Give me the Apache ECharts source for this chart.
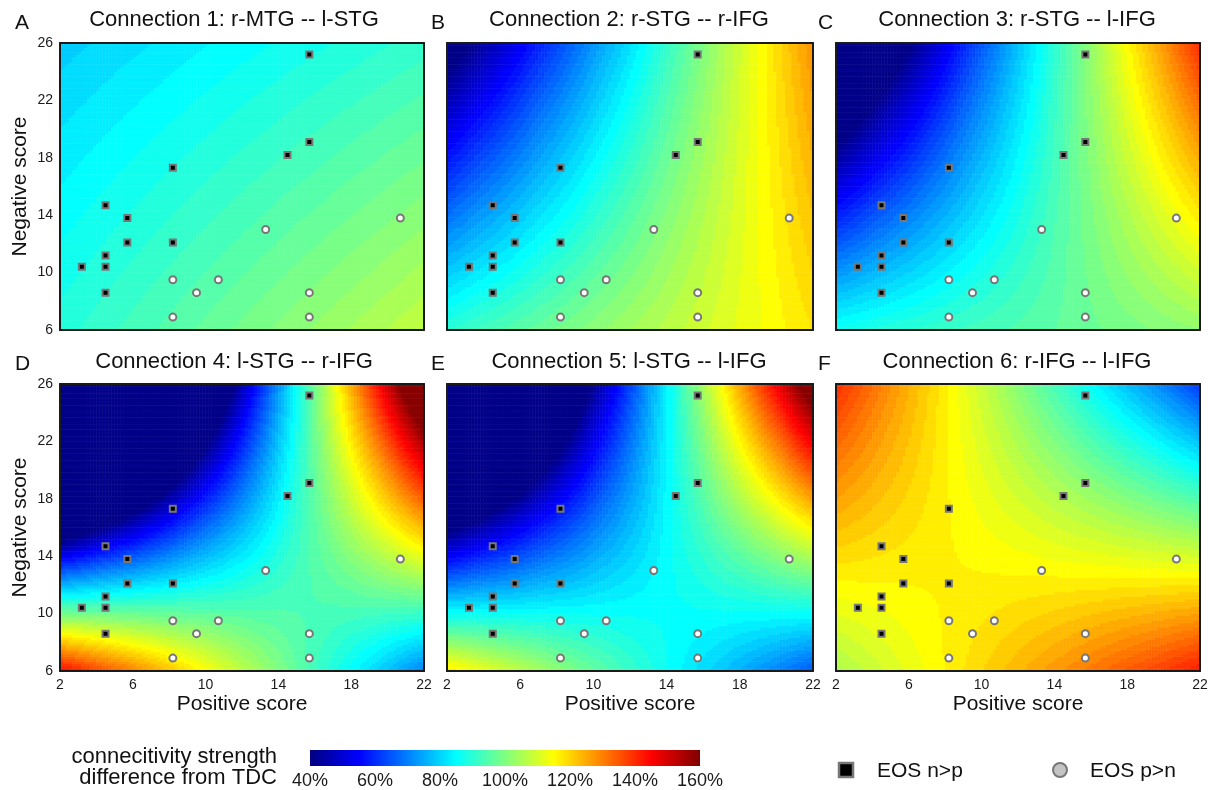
<!DOCTYPE html>
<html lang="en">
<head>
<meta charset="utf-8">
<title>Connectivity strength maps</title>
<script src="https://cdn.jsdelivr.net/npm/echarts@6/dist/echarts.min.js"></script>
<style>
  html, body { margin: 0; padding: 0; background: #fff; }
  #main { width: 1211px; height: 790px; }
</style>
</head>
<body>
<div id="main"></div>
<script>
  var panelLetters = ['A', 'B', 'C', 'D', 'E', 'F'];
  var panelTitles = [
    'Connection 1: r-MTG -- l-STG',
    'Connection 2: r-STG -- r-IFG',
    'Connection 3: r-STG -- l-IFG',
    'Connection 4: l-STG -- r-IFG',
    'Connection 5: l-STG -- l-IFG',
    'Connection 6: r-IFG -- l-IFG'
  ];
  var positiveRange = [2, 22];
  var negativeRange = [6, 26];
  var tickStep = 4;

  // surface value (% of TDC) read at the corners of each panel, A..F
  var cornerBottomLeft = [89, 90, 87, 145, 118, 105];
  var cornerBottomRight = [108, 118, 102, 70, 65, 142];
  var cornerTopLeft = [79, 35, 15, -85, -42, 140];
  var cornerTopRight = [91, 128, 140, 177, 167, 62];

  // EOS n>p patients (squares)
  var nGtPPositive = [3.2, 4.5, 4.5, 4.5, 4.5, 5.7, 5.7, 8.2, 8.2, 14.5, 15.7, 15.7];
  var nGtPNegative = [10.4, 8.6, 10.4, 11.2, 14.7, 12.1, 13.8, 12.1, 17.3, 18.2, 19.1, 25.2];
  // EOS p>n patients (circles)
  var pGtNPositive = [8.2, 8.2, 9.5, 10.7, 13.3, 15.7, 15.7, 20.7];
  var pGtNNegative = [6.9, 9.5, 8.6, 9.5, 13.0, 6.9, 8.6, 13.8];

  var colorbarRange = [40, 160];
  var colorbarTicks = [40, 60, 80, 100, 120, 140, 160];

  var FONT = '"Liberation Sans", Arial, sans-serif';
  var gridLeft = [60, 447, 836];
  var gridWidth = [364, 366, 364];
  var gridTop = [43, 384];
  var gridHeight = 287;
  var titleCenter = [234, 629, 1017];
  var N = 120;

  function clamp(v) { return Math.max(0, Math.min(1, v)); }
  function jet(t) {
    var r = clamp(1.5 - Math.abs(4 * t - 3));
    var g = clamp(1.5 - Math.abs(4 * t - 2));
    var b = clamp(1.5 - Math.abs(4 * t - 1));
    return 'rgb(' + Math.round(r * 255) + ',' + Math.round(g * 255) + ',' + Math.round(b * 255) + ')';
  }

  // contour-like bands, 2% each
  var pieces = [];
  for (var k = 0; k < 60; k++) {
    var lo = colorbarRange[0] + 2 * k;
    var p = { color: jet((lo + 1 - colorbarRange[0]) / 120) };
    if (k > 0) p.gte = lo;
    if (k < 59) p.lt = lo + 2;
    pieces.push(p);
  }

  var cats = [];
  for (var i = 0; i < N; i++) cats.push(String(i));

  function surface(idx) {
    var out = [];
    for (var i = 0; i < N; i++) {
      for (var j = 0; j < N; j++) {
        var u = (i + 0.5) / N, v = (j + 0.5) / N;
        var val = cornerBottomLeft[idx] * (1 - u) * (1 - v) + cornerBottomRight[idx] * u * (1 - v) +
          cornerTopLeft[idx] * (1 - u) * v + cornerTopRight[idx] * u * v;
        out.push([i, j, val]);
      }
    }
    return out;
  }

  var nGtP = nGtPPositive.map(function (x, i) { return [x, nGtPNegative[i]]; });
  var pGtN = pGtNPositive.map(function (x, i) { return [x, pGtNNegative[i]]; });

  var grids = [], xAxes = [], yAxes = [], series = [], titles = [], graphics = [];
  var lineStyle = { color: '#1a1a1a', width: 2 };

  for (var n = 0; n < 6; n++) {
    var col = n % 3, row = Math.floor(n / 3);
    grids.push({ left: gridLeft[col], top: gridTop[row], width: gridWidth[col], height: gridHeight });
    xAxes.push({
      type: 'value', gridIndex: n, min: positiveRange[0], max: positiveRange[1], interval: tickStep,
      position: 'bottom', z: 10,
      axisLine: { show: true, onZero: false, lineStyle: lineStyle },
      axisTick: { show: false }, splitLine: { show: false },
      axisLabel: { show: row === 1, color: '#1a1a1a', fontSize: 14, fontFamily: FONT, margin: 7 },
      name: row === 1 ? 'Positive score' : '', nameLocation: 'middle', nameGap: 23,
      nameTextStyle: { color: '#111', fontSize: 21, fontFamily: FONT }
    });
    xAxes.push({
      type: 'category', gridIndex: n, data: cats, position: 'top', z: 10,
      axisLine: { show: true, lineStyle: lineStyle },
      axisTick: { show: false }, axisLabel: { show: false }, splitLine: { show: false }
    });
    yAxes.push({
      type: 'value', gridIndex: n, min: negativeRange[0], max: negativeRange[1], interval: tickStep,
      position: 'left', z: 10,
      axisLine: { show: true, onZero: false, lineStyle: lineStyle },
      axisTick: { show: false }, splitLine: { show: false },
      axisLabel: { show: col === 0, color: '#1a1a1a', fontSize: 14, fontFamily: FONT, margin: 7 },
      name: col === 0 ? 'Negative score' : '', nameLocation: 'middle', nameGap: 29,
      nameTextStyle: { color: '#111', fontSize: 21, fontFamily: FONT }
    });
    yAxes.push({
      type: 'category', gridIndex: n, data: cats, position: 'right', z: 10,
      axisLine: { show: true, lineStyle: lineStyle },
      axisTick: { show: false }, axisLabel: { show: false }, splitLine: { show: false }
    });
    series.push({
      type: 'heatmap', xAxisIndex: 2 * n + 1, yAxisIndex: 2 * n + 1,
      data: surface(n), progressive: 0, silent: true
    });
    titles.push({
      text: panelTitles[n], left: titleCenter[col], top: row === 0 ? 9 : 351, textAlign: 'center', padding: 0,
      textStyle: { color: '#111', fontSize: 22, fontWeight: 'normal', fontFamily: FONT }
    });
    graphics.push({
      type: 'text', x: [15, 431, 818][col], y: row === 0 ? 23 : 364,
      style: { text: panelLetters[n], font: '21px ' + FONT, fill: '#111', verticalAlign: 'middle', textVerticalAlign: 'middle' }
    });
  }

  // scatter points on top of the surfaces
  for (var n = 0; n < 6; n++) {
    series.push({
      type: 'scatter', name: 'EOS n>p', xAxisIndex: 2 * n, yAxisIndex: 2 * n, data: nGtP,
      symbol: 'rect', symbolSize: 6, z: 5,
      itemStyle: { color: '#000', borderColor: '#777', borderWidth: 2, opacity: 1 }
    });
    series.push({
      type: 'scatter', name: 'EOS p>n', xAxisIndex: 2 * n, yAxisIndex: 2 * n, data: pGtN,
      symbol: 'circle', symbolSize: 7, z: 5,
      itemStyle: { color: '#fff', borderColor: '#777', borderWidth: 2, opacity: 1 }
    });
  }

  var jetStops = [];
  for (var i = 0; i <= 8; i++) jetStops.push({ offset: i / 8, color: jet(i / 8) });

  // colorbar: gradient bar with its own value axis for the % labels
  grids.push({ left: 310, top: 750, width: 390, height: 16 });
  xAxes.push({
    type: 'value', gridIndex: 6, min: colorbarRange[0], max: colorbarRange[1], interval: 20,
    axisLine: { show: false }, axisTick: { show: false }, splitLine: { show: false },
    axisLabel: { color: '#1a1a1a', fontSize: 18, fontFamily: FONT, margin: 8, formatter: '{value}%' }
  });
  yAxes.push({ type: 'value', gridIndex: 6, show: false });
  graphics.push({
    type: 'rect', shape: { x: 310, y: 750, width: 390, height: 16 },
    style: { fill: new echarts.graphic.LinearGradient(0, 0, 1, 0, jetStops) }
  });

  graphics.push({
    type: 'text', x: 277, y: 757,
    style: { text: 'connecitivity strength', font: '22px ' + FONT, fill: '#111', align: 'right', textAlign: 'right', verticalAlign: 'middle', textVerticalAlign: 'middle' }
  });
  graphics.push({
    type: 'text', x: 277, y: 778,
    style: { text: 'difference from TDC', font: '22px ' + FONT, fill: '#111', align: 'right', textAlign: 'right', verticalAlign: 'middle', textVerticalAlign: 'middle' }
  });
  graphics.push({ type: 'rect', shape: { x: 839, y: 763, width: 14, height: 14 }, style: { fill: '#000', stroke: '#777', lineWidth: 2.5 } });
  graphics.push({
    type: 'text', x: 877, y: 771,
    style: { text: 'EOS n>p', font: '21px ' + FONT, fill: '#111', verticalAlign: 'middle', textVerticalAlign: 'middle' }
  });
  graphics.push({ type: 'circle', shape: { cx: 1060, cy: 770, r: 7 }, style: { fill: '#c4c4c4', stroke: '#777', lineWidth: 2 } });
  graphics.push({
    type: 'text', x: 1090, y: 771,
    style: { text: 'EOS p>n', font: '21px ' + FONT, fill: '#111', verticalAlign: 'middle', textVerticalAlign: 'middle' }
  });

  var myChart = echarts.init(document.getElementById('main'));
  myChart.setOption({
    animation: false,
    backgroundColor: '#fff',
    title: titles,
    grid: grids,
    xAxis: xAxes,
    yAxis: yAxes,
    visualMap: [
      { type: 'piecewise', show: false, dimension: 2, seriesIndex: [0, 1, 2, 3, 4, 5], pieces: pieces }
    ],
    graphic: graphics,
    series: series
  });
</script>
</body>
</html>
